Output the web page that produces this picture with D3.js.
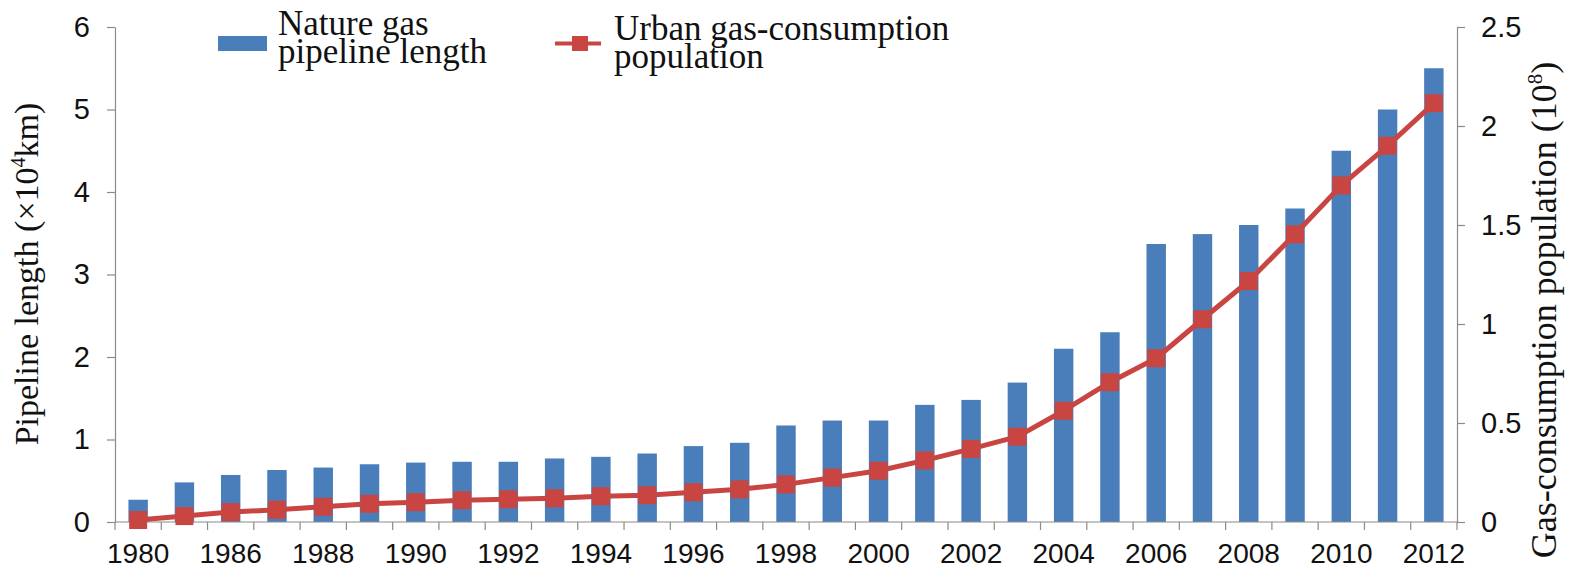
<!DOCTYPE html>
<html>
<head>
<meta charset="utf-8">
<script src="https://cdn.jsdelivr.net/npm/d3@7/dist/d3.min.js"></script>
<style>
  html, body { margin: 0; padding: 0; background: #fff; }
  svg { display: block; }
  .num { font-family: "Liberation Sans", Arial, Helvetica, sans-serif; font-size: 29px; fill: #111; }
  .xnum { font-size: 28px; }
  .serif { font-family: "Liberation Serif", "Times New Roman", serif; fill: #111; }
</style>
</head>
<body>
<svg id="chart" width="1575" height="569"></svg>
<script>
// Years on the category axis (1981–1984 are not reported)
const years = ["1980","1985","1986","1987","1988","1989","1990","1991","1992","1993",
               "1994","1995","1996","1997","1998","1999","2000","2001","2002","2003",
               "2004","2005","2006","2007","2008","2009","2010","2011","2012"];
// Natural gas pipeline length, ×10^4 km
const pipelineLength = [0.27,0.48,0.57,0.63,0.66,0.70,0.72,0.73,0.73,0.77,
                        0.79,0.83,0.92,0.96,1.17,1.23,1.23,1.42,1.48,1.69,
                        2.10,2.30,3.37,3.49,3.60,3.80,4.50,5.00,5.50];
// Urban gas-consumption population, 10^8 people
const gasPopulation = [0.01,0.03,0.05,0.062,0.077,0.092,0.10,0.11,0.115,0.12,
                       0.13,0.135,0.15,0.165,0.19,0.224,0.259,0.311,0.369,0.431,
                       0.562,0.706,0.827,1.024,1.217,1.453,1.70,1.90,2.115];
const leftTicks = [0,1,2,3,4,5,6];
const rightTicks = [0,0.5,1,1.5,2,2.5];
const labelledYears = years.filter((d, i) => i % 2 === 0);

const BLUE = "#4A7EBB";
const RED = "#C94541";
const AXIS = "#8a8a8a";

const svg = d3.select("#chart");
const plotLeft = 115, plotRight = 1457, plotTop = 27, plotBottom = 522;

const x = d3.scaleBand().domain(years).range([plotLeft, plotRight]).padding(0);
const yL = d3.scaleLinear().domain([0, 6]).range([plotBottom, plotTop]);
const yR = d3.scaleLinear().domain([0, 2.5]).range([plotBottom, plotTop]);
const barW = x.bandwidth() * 0.42;

// bars
svg.append("g").selectAll("rect")
  .data(years)
  .join("rect")
  .attr("x", (d) => x(d) + (x.bandwidth() - barW) / 2)
  .attr("y", (d, i) => yL(pipelineLength[i]))
  .attr("width", barW)
  .attr("height", (d, i) => yL(0) - yL(pipelineLength[i]))
  .attr("fill", BLUE);

// left axis
const gL = svg.append("g").attr("transform", `translate(${plotLeft},0)`)
  .call(d3.axisLeft(yL).tickValues(leftTicks).tickFormat(d3.format("d"))
        .tickSize(8).tickSizeOuter(0).tickPadding(17));
// right axis
const gR = svg.append("g").attr("transform", `translate(${plotRight},0)`)
  .call(d3.axisRight(yR).tickValues(rightTicks).tickFormat((d) => String(d))
        .tickSize(8).tickSizeOuter(0).tickPadding(16));
// bottom axis: boundary ticks between categories, labels on every other year
const boundaries = years.map((d) => x(d)).concat([plotRight]);
const gB = svg.append("g").attr("transform", `translate(0,${plotBottom})`);
gB.append("line").attr("x1", plotLeft).attr("x2", plotRight).attr("y1", 0).attr("y2", 0)
  .attr("stroke", AXIS).attr("stroke-width", 1.2);
gB.selectAll("line.tk").data(boundaries).join("line").attr("class", "tk")
  .attr("x1", (d) => d).attr("x2", (d) => d).attr("y1", 0).attr("y2", 8)
  .attr("stroke", AXIS).attr("stroke-width", 1.2);
gB.append("g").call(d3.axisBottom(x).tickValues(labelledYears).tickSize(0).tickPadding(21))
  .call((g) => g.select(".domain").remove());

[gL, gR, gB].forEach((g) => {
  g.selectAll(".domain, .tick line").attr("stroke", AXIS).attr("stroke-width", 1.2);
  g.selectAll("text").attr("class", "num").attr("font-family", null).attr("font-size", null).attr("fill", null);
});
gB.selectAll("text").attr("class", "num xnum");

// population line with square markers
const line = d3.line().x((d, i) => x(years[i]) + x.bandwidth() / 2).y((d) => yR(d));
svg.append("path").datum(gasPopulation)
  .attr("d", line).attr("fill", "none").attr("stroke", RED)
  .attr("stroke-width", 5).attr("stroke-linejoin", "round");
const mk = 18;
svg.append("g").selectAll("rect").data(gasPopulation).join("rect")
  .attr("x", (d, i) => x(years[i]) + x.bandwidth() / 2 - mk / 2)
  .attr("y", (d) => yR(d) - mk / 2)
  .attr("width", mk).attr("height", mk).attr("fill", RED);

// axis titles
const tL = svg.append("text").attr("class", "serif").attr("font-size", 34)
  .attr("text-anchor", "middle")
  .attr("transform", "translate(38,274) rotate(-90)");
tL.append("tspan").text("Pipeline length (×10");
tL.append("tspan").attr("font-size", 20).attr("dy", -13).text("4");
tL.append("tspan").attr("dy", 13).text("km)");

const tR = svg.append("text").attr("class", "serif").attr("font-size", 36)
  .attr("text-anchor", "middle")
  .attr("transform", "translate(1556,310) rotate(-90)");
tR.append("tspan").text("Gas-consumption population (10");
tR.append("tspan").attr("font-size", 21).attr("dy", -14).text("8");
tR.append("tspan").attr("dy", 14).text(")");

// legend (each entry is one two-line text block)
const lg = svg.append("g");
lg.append("rect").attr("x", 218).attr("y", 36).attr("width", 49).attr("height", 15).attr("fill", BLUE);
const l1 = lg.append("text").attr("class", "serif").attr("font-size", 35);
l1.append("tspan").attr("x", 278).attr("y", 35).text("Nature gas");
l1.append("tspan").attr("x", 278).attr("y", 63).text("pipeline length");

lg.append("line").attr("x1", 555).attr("x2", 601).attr("y1", 43.5).attr("y2", 43.5)
  .attr("stroke", RED).attr("stroke-width", 4);
lg.append("rect").attr("x", 572).attr("y", 36).attr("width", 16).attr("height", 15).attr("fill", RED);
const l2 = lg.append("text").attr("class", "serif").attr("font-size", 35);
l2.append("tspan").attr("x", 614).attr("y", 40).text("Urban gas-consumption");
l2.append("tspan").attr("x", 614).attr("y", 68).text("population");
</script>
</body>
</html>
